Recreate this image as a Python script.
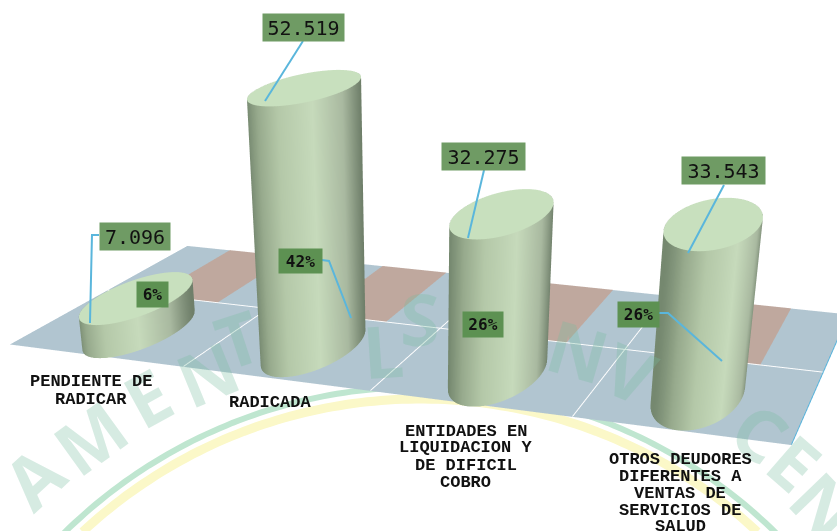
import numpy as np, plotly.graph_objects as go

# ---- data ----
categories = [["PENDIENTE DE","RADICAR"],["RADICADA"],["ENTIDADES EN","LIQUIDACION Y","DE DIFICIL","COBRO"],
              ["OTROS DEUDORES","DIFERENTES A","VENTAS DE","SERVICIOS DE","SALUD"]]
values = [7096, 52519, 32275, 33543]
value_labels = ["7.096", "52.519", "32.275", "33.543"]
percent_labels = ["6%", "42%", "26%", "26%"]

# ---- layout of the picture ----
W, WINDOW_H, Hd = 837, 531, 1339
ZMAX = 60000
E = np.array([0.688232, -1.95968, 0.676845])
yaw, pit, rol = 1.92218, -0.522607, -0.000727398
B, ROW, YC, SZ, RX, RY = 0.497215, 0.504353, 0.239625, 6.06201e-06, 0.051, 0.121494
x_nudge = [0.013, -0.010, 0.001, -0.014]
y_nudge = [-0.013, 0.016, -0.014, 0.005]
cat_x = [91, 270, 466, 680]
cat_y = [382, 402, 431, 459]
val_box = [(100,223,170,250),(263,14,344,41),(442,143,525,170),(682,157,765,184)]
pct_box = [(137,282,168,307),(279,249,322,273),(463,312,503,337),(618,302,659,327)]
leaders = [[(99,235),(92,235),(90,323)],[(303,41),(265,101)],[(484,170),(468,238)],[(724,185),(688,253)],
           [(322,260),(329,261),(351,318)],[(659,313),(668,313),(722,361)]]
watermark = [("A",33,477),("M",90,437),("E",147,397),("N",207,373),("T",238,338),("L",383,350),("S",420,318),
             ("N",578,350),("V",630,372),("C",760,432),("E",795,462),("N",825,505)]

F = np.array([np.cos(pit)*np.cos(yaw), np.cos(pit)*np.sin(yaw), np.sin(pit)])
R0 = np.cross(F, [0,0,1]); R0 /= np.linalg.norm(R0); U0 = np.cross(R0, F)
Rr = np.cos(rol)*R0 + np.sin(rol)*U0
U = -np.sin(rol)*R0 + np.cos(rol)*U0
Hz = SZ*ZMAX
eye = E - np.array([0,0,Hz/2]); cen = eye + F

FLOOR, BROWN = '#b1c5d0', '#bfa89e'
light = dict(ambient=1, diffuse=0, specular=0, fresnel=0)

def rect(x0, x1, y0, y1, z, col):
    return go.Mesh3d(x=[x0,x1,x1,x0], y=[y0,y0,y1,y1], z=[z]*4, i=[0,0], j=[1,2], k=[2,3], color=col,
                     flatshading=True, lighting=light, hoverinfo='skip')

fig = go.Figure()
fig.add_trace(rect(0, 4, 0, 1, 0, FLOOR))
for k in range(4):
    fig.add_trace(rect(k+.29, k+.69, ROW, 1, 40, BROWN))
lx = [0,4,None,1,1,None,2,2,None,3,3]
ly = [ROW,ROW,None,0,1,None,0,1,None,0,1]
fig.add_trace(go.Scatter3d(x=lx, y=ly, z=[80 if v is not None else None for v in lx], mode='lines',
                           line=dict(color='white', width=2), hoverinfo='skip'))
fig.add_trace(go.Scatter3d(x=[4,4], y=[0,1], z=[80,80], mode='lines', line=dict(color='#5ab4dc', width=2), hoverinfo='skip'))

TH = np.linspace(0, 2*np.pi, 181)
side_scale = [[0,'#75886f'],[.12,'#97aa8d'],[.3,'#b4c8a8'],[.6,'#c6dabb'],[.85,'#a9b9a0'],[1,'#6f7f6a']]
den = np.hypot(RX*Rr[0], RY*Rr[1])
for k, v in enumerate(values):
    cx, cy = k+.5+x_nudge[k], YC+y_nudge[k]
    xs = cx + 4*RX*np.cos(TH)
    ys = cy + RY/B*np.sin(TH)
    s = (RX*np.cos(TH)*Rr[0] + RY*np.sin(TH)*Rr[1])/den
    fig.add_trace(go.Surface(x=np.array([xs,xs]), y=np.array([ys,ys]), z=np.array([0*xs,0*xs+v]),
                             surfacecolor=np.array([s,s]), cmin=-1, cmax=1, showscale=False,
                             colorscale=side_scale, lighting=light, hoverinfo='skip'))
    fig.add_trace(go.Surface(x=np.array([0*xs+cx,xs]), y=np.array([0*ys+cy,ys]), z=np.array([0*xs+v,0*xs+v]),
                             surfacecolor=np.zeros((2,len(TH))), showscale=False,
                             colorscale=[[0,'#c8e0be'],[1,'#c8e0be']], lighting=light, hoverinfo='skip'))

scene = dict(xaxis=dict(range=[0,4],visible=False), yaxis=dict(range=[-1,2],visible=False), zaxis=dict(range=[0,ZMAX],visible=False),
             aspectmode='manual', aspectratio=dict(x=1,y=3*B,z=Hz), dragmode='orbit', domain=dict(x=[0,1],y=[0,1]),
             bgcolor='rgba(0,0,0,0)',
             camera=dict(eye=dict(x=eye[0],y=eye[1],z=eye[2]), center=dict(x=cen[0],y=cen[1],z=cen[2]),
                         up=dict(x=U[0],y=U[1],z=U[2]), projection=dict(type='perspective')))

px = lambda x: x/W
py = lambda y: 1-y/Hd
shapes, ann = [], []
def arc(R, col, w):
    a = np.linspace(-0.85, 0.85, 120)
    X = 420+R*np.sin(a); Y = 894-R*np.cos(a)
    keep = Y <= 535
    d = "M "+" L ".join(f"{px(x):.4f} {py(y):.4f}" for x,y in zip(X[keep],Y[keep]))
    shapes.append(dict(type='path', path=d, xref='paper', yref='paper', layer='below', line=dict(color=col,width=w)))
arc(495, '#fbf8c8', 9); arc(507, '#bfe6d0', 6)
for ch, x, y in watermark:
    ann.append(dict(xref='paper', yref='paper', x=px(x), y=py(y), xanchor='center', yanchor='middle', text=ch, showarrow=False,
                    textangle=float(np.degrees(np.arctan((x-420)/(894-y)))),
                    font=dict(size=72, family='Noto Sans', color='rgba(120,190,160,0.30)', weight='bold')))
for pts in leaders:
    d = "M "+" L ".join(f"{px(x):.4f} {py(y):.4f}" for x,y in pts)
    shapes.append(dict(type='path', path=d, xref='paper', yref='paper', line=dict(color='#5ab6dc', width=2)))
def box(t, b, bg, font):
    ann.append(dict(xref='paper', yref='paper', x=px((b[0]+b[2])/2), y=py((b[1]+b[3])/2), xanchor='center', yanchor='middle',
                    width=b[2]-b[0], height=b[3]-b[1], text=t, showarrow=False, bgcolor=bg, borderpad=0, font=font))
for t, b in zip(value_labels, val_box):
    box(t, b, '#6f9b64', dict(size=20, family='DejaVu Sans Mono', color='#111'))
for t, b in zip(percent_labels, pct_box):
    box(t, b, '#5d9152', dict(size=16, family='DejaVu Sans Mono', color='#111', weight='bold'))
for lines, x, y in zip(categories, cat_x, cat_y):
    for i, t in enumerate(lines):
        ann.append(dict(xref='paper', yref='paper', x=px(x), y=py(y+i*17), xanchor='center', yanchor='middle', text=t, showarrow=False,
                        font=dict(size=17, family='Liberation Mono', color='#111', weight='bold')))

fig.update_layout(width=W, height=Hd, margin=dict(l=0,r=0,t=0,b=0), scene=scene, shapes=shapes, annotations=ann,
                  paper_bgcolor='white', showlegend=False)
fig.write_html("out.html",
    post_script="document.body.style.margin='0';document.documentElement.style.overflow='hidden';document.body.style.overflow='hidden';document.documentElement.style.height='531px';document.body.style.height='531px';",
    config=dict(displayModeBar=False))
